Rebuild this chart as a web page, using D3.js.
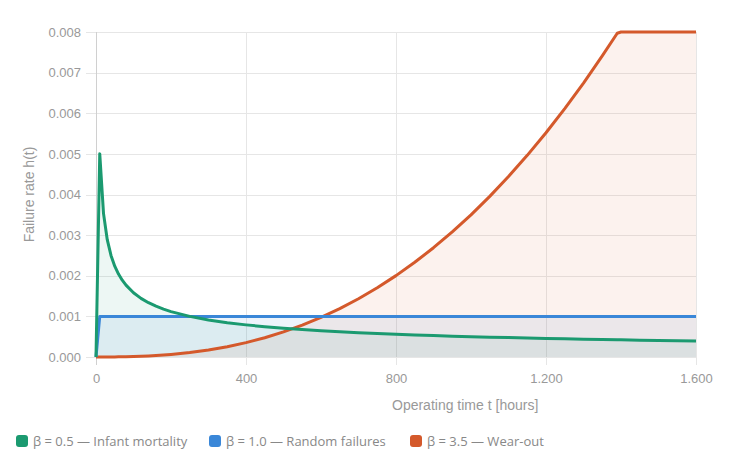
<!DOCTYPE html>
<html>
<head>
<meta charset="utf-8">
<script src="https://cdn.jsdelivr.net/npm/d3@7"></script>
<style>
  body { margin: 0; background: #fff; }
  svg { display: block; font-family: "Liberation Sans", Arial, sans-serif; }
</style>
</head>
<body>
<svg width="734" height="472"></svg>
<script>
// operating time samples [hours]
const hours = [0, 10, 20, 30, 40, 50, 60, 70, 80, 100, 120, 140, 160, 180, 200, 250, 300, 350, 400, 450,
  500, 550, 600, 650, 700, 750, 800, 850, 900, 950, 1000, 1050, 1100, 1150, 1200, 1250, 1300, 1350,
  1390, 1400, 1450, 1500, 1550, 1600];

// failure rate, one array per curve
const infantRate = [0, 0.005, 0.003536, 0.002887, 0.0025, 0.002236, 0.002041, 0.00189, 0.001768, 0.001581,
  0.001443, 0.001336, 0.00125, 0.001179, 0.001118, 0.001, 0.000913, 0.000845, 0.000791, 0.000745,
  0.000707, 0.000674, 0.000645, 0.00062, 0.000598, 0.000577, 0.000559, 0.000542, 0.000527, 0.000513,
  0.0005, 0.000488, 0.000477, 0.000466, 0.000456, 0.000447, 0.000439, 0.00043, 0.000424, 0.000423,
  0.000415, 0.000408, 0.000402, 0.000395];
const randomRate = [0, 0.001, 0.001, 0.001, 0.001, 0.001, 0.001, 0.001, 0.001, 0.001, 0.001, 0.001, 0.001,
  0.001, 0.001, 0.001, 0.001, 0.001, 0.001, 0.001, 0.001, 0.001, 0.001, 0.001, 0.001, 0.001, 0.001, 0.001,
  0.001, 0.001, 0.001, 0.001, 0.001, 0.001, 0.001, 0.001, 0.001, 0.001, 0.001, 0.001, 0.001, 0.001, 0.001, 0.001];
const wearRate = [0, 0, 0.0000002, 0.0000006, 0.0000011, 0.000002, 0.0000031, 0.0000046, 0.0000063, 0.0000111,
  0.0000175, 0.0000257, 0.0000358, 0.0000481, 0.0000626, 0.000109, 0.000172, 0.000254, 0.000354, 0.000475,
  0.000619, 0.000785, 0.000976, 0.001192, 0.001435, 0.001705, 0.002003, 0.002331, 0.00269, 0.003079,
  0.0035, 0.003954, 0.004442, 0.004964, 0.005521, 0.006114, 0.006744, 0.007412, 0.00797, 0.008,
  0.008, 0.008, 0.008, 0.008];

const seriesNames = ["β = 0.5 — Infant mortality", "β = 1.0 — Random failures", "β = 3.5 — Wear-out"];
const seriesColors = ["#1b9a70", "#3a87d8", "#d4592b"];
const seriesFill = ["rgba(27,154,112,0.08)", "rgba(58,135,216,0.09)", "rgba(212,89,43,0.08)"];
const xTicks = [0, 400, 800, 1200, 1600];
const yTicks = [0, 0.001, 0.002, 0.003, 0.004, 0.005, 0.006, 0.007, 0.008];

const svg = d3.select("svg");
const plotLeft = 96, plotRight = 696, plotTop = 32, plotBottom = 357;

const x = d3.scaleLinear().domain([0, 1600]).range([plotLeft, plotRight]);
const y = d3.scaleLinear().domain([0, 0.008]).range([plotBottom, plotTop]);
const fmtX = d3.formatLocale({decimal: ",", thousands: ".", grouping: [3], currency: ["", "€"]}).format(",");

// grid
const grid = svg.append("g").attr("stroke", "#e6e6e6").attr("stroke-width", 1);
yTicks.forEach(v => {
  grid.append("line").attr("x1", plotLeft - 10).attr("x2", plotRight)
    .attr("y1", Math.round(y(v)) + 0.5).attr("y2", Math.round(y(v)) + 0.5);
});
xTicks.forEach(v => {
  grid.append("line").attr("y1", plotTop).attr("y2", plotBottom + 8)
    .attr("x1", Math.round(x(v)) + 0.5).attr("x2", Math.round(x(v)) + 0.5);
});
// y axis line
svg.append("line").attr("x1", plotLeft + 0.5).attr("x2", plotLeft + 0.5)
  .attr("y1", plotTop).attr("y2", plotBottom + 8).attr("stroke", "#d0d0d0");

// tick labels
const yAxis = d3.axisLeft(y).tickValues(yTicks).tickFormat(d3.format(".3f")).tickSize(0).tickPadding(15);
svg.append("g").attr("transform", `translate(${plotLeft},0)`).call(yAxis)
  .call(g => g.select(".domain").remove())
  .call(g => g.selectAll("text").attr("fill", "#999").attr("font-size", 13).attr("font-family", "Liberation Sans, Arial"));
const xAxis = d3.axisBottom(x).tickValues(xTicks).tickFormat(fmtX).tickSize(0).tickPadding(17);
svg.append("g").attr("transform", `translate(0,${plotBottom})`).call(xAxis)
  .call(g => g.select(".domain").remove())
  .call(g => g.selectAll("text").attr("fill", "#999").attr("font-size", 13).attr("font-family", "Liberation Sans, Arial"));

// axis titles
svg.append("text").attr("x", 392).attr("y", 410).attr("fill", "#999").attr("font-size", 14)
  .text("Operating time t [hours]");
svg.append("text").attr("transform", `translate(34,${(plotTop + plotBottom) / 2}) rotate(-90)`)
  .attr("text-anchor", "middle").attr("fill", "#999").attr("font-size", 14)
  .text("Failure rate h(t)");

// series
const seriesValues = [infantRate, randomRate, wearRate];
const area = d3.area().x(d => x(d[0])).y0(y(0)).y1(d => y(d[1]));
const line = d3.line().x(d => x(d[0])).y(d => y(d[1]));

seriesValues.forEach((vals, i) => {
  const pts = hours.map((h, j) => [h, vals[j]]);
  svg.append("path").datum(pts).attr("d", area).attr("fill", seriesFill[i]);
});
[2, 1, 0].forEach(i => {
  const pts = hours.map((h, j) => [h, seriesValues[i][j]]);
  svg.append("path").datum(pts).attr("d", line).attr("fill", "none")
    .attr("stroke", seriesColors[i]).attr("stroke-width", 3).attr("stroke-linejoin", "round");
});

// legend
const legendX = [16, 209, 410];
const legend = svg.append("g");
seriesNames.forEach((name, i) => {
  legend.append("rect").attr("x", legendX[i]).attr("y", 435).attr("width", 12).attr("height", 12)
    .attr("rx", 3).attr("fill", seriesColors[i]);
  legend.append("text").attr("x", legendX[i] + 17).attr("y", 446)
    .attr("fill", "#888").attr("font-size", 13).attr("font-family", "Open Sans, sans-serif").text(name);
});
</script>
</body>
</html>
